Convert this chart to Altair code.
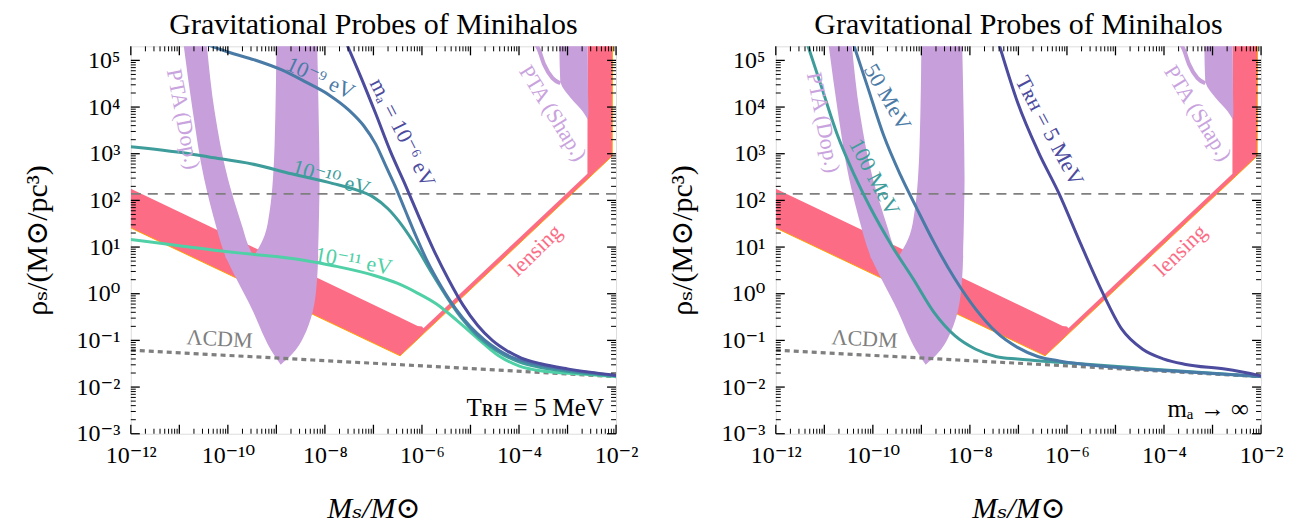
import altair as alt
import numpy as np
import pandas as pd

# ------------------------------------------------------------------
# Data: all values are log10 of the quantities
# ------------------------------------------------------------------
# Lambda-CDM (dotted) and the horizontal dashed line
lcdm_x = [-12.0, -7.0, -2.0]
lcdm_y = [-1.21, -1.49, -1.775]
dash_y = 2.14

# lensing region (x, lower edge, upper edge)
lens_x = [-12.0, -9.0, -6.45, -6.09, -6.0, -5.97, -4.0, -2.59, -2.585, -2.08, -2.075, -1.9]
lens_lo = [1.41, -0.07, -1.33, -0.98, -0.89, -0.86, 1.07, 2.45, 2.455, 2.95, 5.4, 5.4]
lens_hi = [2.25, 0.76, -0.51, -0.69, -0.70, -0.74, 1.19, 2.57, 5.4, 5.4, 5.4, 5.4]
lens_edge_x = [-12.0, -6.45, -2.08, -2.075]
lens_edge_y = [1.41, -1.33, 2.95, 5.4]

# PTA (Doppler) region, drawn in three horizontal pieces (y, x_left, x_right)
dop_left_y = [0.76, 0.80, 1.04, 1.40, 2.47, 3.89, 5.40]
dop_left_lo = [-10.04, -10.05, -10.13, -10.23, -10.49, -10.72, -10.92]
dop_left_hi = [-9.45, -9.47, -9.58, -9.69, -10.00, -10.27, -10.44]
dop_right_y = [0.76, 0.80, 0.90, 1.26, 1.76, 2.47, 3.89, 5.40]
dop_right_lo = [-9.49, -9.47, -9.41, -9.24, -9.14, -9.07, -9.02, -9.00]
dop_right_hi = [-8.14, -8.14, -8.14, -8.13, -8.12, -8.11, -8.13, -8.16]
dop_bot_y = [-1.52, -1.31, -1.10, -0.95, -0.38, 0.33, 0.80]
dop_bot_lo = [-8.91, -9.05, -9.17, -9.24, -9.48, -9.83, -10.05]
dop_bot_hi = [-8.91, -8.69, -8.53, -8.45, -8.25, -8.16, -8.14]

# PTA (Shapiro) region
shap_y = [3.73, 3.91, 4.19, 4.51, 4.55, 5.40]
shap_lo = [-2.58, -2.69, -2.93, -3.14, -3.15, -3.17]
shap_hi = [-2.58, -2.57, -2.575, -2.58, -2.58, -2.59]
shap_arc_x = [-3.69, -3.60, -3.48, -3.31, -3.15]
shap_arc_y = [5.40, 5.25, 4.91, 4.62, 4.51]

# Left panel: T_RH = 5 MeV, various axion masses
ma6_x = [-7.55, -7.25, -6.95, -6.65, -6.35, -6.05, -5.75, -5.45, -5.15, -4.85, -4.55, -4.25, -3.95, -3.55, -3.0, -2.0]
ma6_y = [5.35, 4.62, 3.85, 3.05, 2.35, 1.62, 0.92, 0.30, -0.25, -0.68, -1.00, -1.22, -1.38, -1.50, -1.61, -1.75]
ma9_x = [-10.45, -10.0, -9.45, -8.9, -8.42, -7.9, -7.5, -7.2, -6.95, -6.75, -6.55, -6.35, -6.15, -5.9,
         -5.6, -5.3, -5.0, -4.7, -4.4, -4.1, -3.7, -3.2, -2.71, -2.0]
ma9_y = [5.35, 5.18, 5.01, 4.80, 4.55, 4.25, 3.93, 3.60, 3.20, 2.75, 2.30, 1.80, 1.30, 0.72,
         0.15, -0.33, -0.71, -1.00, -1.22, -1.38, -1.50, -1.60, -1.67, -1.76]
ma10_x = [-12.0, -11.0, -10.39, -9.5, -8.69, -7.83, -7.4, -7.0, -6.7, -6.4, -6.1, -5.8, -5.5, -5.2, -4.9,
          -4.6, -4.3, -4.0, -3.6, -3.1, -2.71, -2.0]
ma10_y = [3.15, 3.03, 2.93, 2.78, 2.57, 2.36, 2.24, 2.07, 1.82, 1.45, 0.98, 0.45, -0.05, -0.50, -0.86,
          -1.12, -1.32, -1.46, -1.57, -1.65, -1.70, -1.76]
ma11_x = [-12.0, -11.0, -10.0, -9.54, -8.5, -7.83, -6.98, -6.5, -6.12, -5.70, -5.27, -4.84, -4.42, -3.99, -3.56, -2.71, -2.0]
ma11_y = [1.16, 1.03, 0.90, 0.85, 0.73, 0.60, 0.39, 0.22, 0.03, -0.22, -0.58, -0.97, -1.33, -1.55, -1.65, -1.72, -1.775]

# Right panel: m_a -> infinity, various reheating temperatures
t5_x = [-7.40, -7.02, -6.59, -6.16, -5.73, -5.30, -4.87, -4.44, -4.0, -3.58, -2.71, -2.0]
t5_y = [5.35, 4.11, 3.04, 2.14, 1.10, 0.10, -0.76, -1.19, -1.40, -1.51, -1.62, -1.76]
t50_x = [-10.40, -10.12, -9.78, -9.43, -9.09, -8.74, -8.31, -7.88, -7.45, -7.02, -6.59, -6.16, -5.30, -4.44, -3.58, -2.0]
t50_y = [5.35, 4.47, 3.40, 2.54, 1.82, 1.10, 0.32, -0.33, -0.83, -1.15, -1.35, -1.44, -1.55, -1.62, -1.67, -1.775]
t100_x = [-11.35, -11.07, -10.73, -10.38, -10.04, -9.61, -9.17, -8.74, -8.31, -7.88, -7.45, -7.02, -6.16, -4.44, -2.0]
t100_y = [5.35, 4.47, 3.40, 2.54, 1.82, 1.03, 0.32, -0.40, -0.90, -1.19, -1.35, -1.40, -1.47, -1.60, -1.775]

# tick positions
x_major_exp = list(range(-12, -1))
x_label_exp = [-12, -10, -8, -6, -4, -2]
y_major_exp = list(range(-3, 6))
minor_mult = [2, 3, 4, 5, 6, 7, 8, 9]

# ------------------------------------------------------------------
FONT = "Liberation Serif, DejaVu Serif, serif"
INDIGO = "#4c4b9e"
STEEL = "#4a7aa6"
TEAL = "#3e9d9b"
MINT = "#50d0a6"
PURPLE = "#c79fdb"
PURPLE_TXT = "#c9a3de"
RED = "#fc6c85"
ORANGE = "#ffa200"
GRAY = "#7f7f7f"

W, H = 486, 388


def P(v):
    return np.power(10.0, np.asarray(v, dtype=float))


SUP = str.maketrans("-0123456789", "⁻⁰¹²³⁴⁵⁶⁷⁸⁹")


def lab(k):
    return "10" + str(k).translate(SUP)


def label_expr(ks):
    s = ""
    for k in ks[:-1]:
        s += f"datum.value < {10 ** (k + 0.5):.4g} ? '{lab(k)}' : "
    return s + f"'{lab(ks[-1])}'"


XS = alt.Scale(type="log", domain=[1e-12, 1e-2], nice=False)
YS = alt.Scale(type="log", domain=[1e-3, 2e5], nice=False)

XAX = alt.Axis(values=[float(10.0 ** k) for k in x_label_exp], labelExpr=label_expr(x_label_exp),
               ticks=False, domain=False, grid=False, labelFont=FONT, labelFontSize=24,
               labelColor="black", labelPadding=10, labelFlush=False, labelOverlap=False,
               title="Mₛ/M⊙", titleFont=FONT, titleFontSize=30, titleFontWeight="normal",
               titleFontStyle="italic", titleColor="black", titleX=W / 2, titleY=75,
               titleBaseline="middle", titleAlign="center")
YAX = alt.Axis(values=[float(10.0 ** k) for k in y_major_exp], labelExpr=label_expr(y_major_exp),
               ticks=False, domain=False, grid=False, labelFont=FONT, labelFontSize=24,
               labelColor="black", labelPadding=11, labelFlush=False, labelOverlap=False,
               labelBaseline="middle",
               title="ρₛ/(M⊙/pc³)", titleFont=FONT, titleFontSize=30, titleFontWeight="normal",
               titleColor="black", titleX=-93, titleY=H / 2, titleAngle=270,
               titleBaseline="middle", titleAlign="center")


def X(f):
    return alt.X(f, type="quantitative", scale=XS, axis=XAX)


def Y(f):
    return alt.Y(f, type="quantitative", scale=YS, axis=YAX)


def line_layer(xs, ys, color, width, dash=None, smooth=True):
    df = pd.DataFrame({"x": P(xs), "y": P(ys), "i": np.arange(len(xs))})
    kw = dict(color=color, strokeWidth=width, clip=True)
    if smooth:
        kw["interpolate"] = "monotone"
    if dash:
        kw["strokeDash"] = dash
    return alt.Chart(df).mark_line(**kw).encode(x=X("x"), y=Y("y"), order=alt.Order("i:Q"))


def harea(ys, lo, hi, color):
    df = pd.DataFrame({"y": P(ys), "lo": P(lo), "hi": P(hi)})
    return alt.Chart(df).mark_area(orient="horizontal", color=color, opacity=1, clip=True,
                                   interpolate="monotone").encode(
        y=Y("y"), x=X("lo"), x2="hi")


def text_layer(txt, x, y, color, angle=0, size=22, align="center", style="normal"):
    df = pd.DataFrame({"x": P([x]), "y": P([y]), "t": [txt]})
    return alt.Chart(df).mark_text(font=FONT, fontSize=size, color=color, angle=angle,
                                   align=align, baseline="middle", fontStyle=style).encode(
        x=X("x"), y=Y("y"), text="t:N")


def tick_layers():
    xmaj = P(x_major_exp)
    xmin = np.array([m * 10.0 ** k for k in x_major_exp[:-1] for m in minor_mult])
    ymaj = P(y_major_exp)
    ymin = np.array([m * 10.0 ** k for k in y_major_exp[:-1] for m in minor_mult])
    out = []
    for vals, L, sw in [(xmaj, 9, 1.3), (xmin, 5, 1.0)]:
        base = alt.Chart(pd.DataFrame({"v": vals})).mark_rule(color="black", strokeWidth=sw)
        out.append(base.encode(x=X("v"), y=alt.value(H), y2=alt.value(H - L)))
        out.append(base.encode(x=X("v"), y=alt.value(0), y2=alt.value(L)))
    for vals, L, sw in [(ymaj, 9, 1.3), (ymin, 5, 1.0)]:
        base = alt.Chart(pd.DataFrame({"v": vals})).mark_rule(color="black", strokeWidth=sw)
        out.append(base.encode(y=Y("v"), x=alt.value(0), x2=alt.value(L)))
        out.append(base.encode(y=Y("v"), x=alt.value(W), x2=alt.value(W - L)))
    return out


def common_background():
    lens = pd.DataFrame({"x": P(lens_x), "lo": P(lens_lo), "hi": P(lens_hi)})
    lens_area = alt.Chart(lens).mark_area(color=RED, opacity=1, clip=True).encode(
        x=X("x"), y=Y("lo"), y2="hi")
    layers = [
        lens_area,
        line_layer(lens_edge_x, lens_edge_y, ORANGE, 1.0, smooth=False),
        harea(dop_bot_y, dop_bot_lo, dop_bot_hi, PURPLE),
        harea(dop_left_y, dop_left_lo, dop_left_hi, PURPLE),
        harea(dop_right_y, dop_right_lo, dop_right_hi, PURPLE),
        harea(shap_y, shap_lo, shap_hi, PURPLE),
        line_layer(shap_arc_x, shap_arc_y, PURPLE, 4),
        line_layer([-12.0, -2.0], [dash_y, dash_y], GRAY, 1.6, [10, 7], smooth=False),
        line_layer(lcdm_x, lcdm_y, GRAY, 3.2, [5, 4]),
    ]
    return layers


def common_labels(dop_x, dop_y):
    return [
        text_layer("PTA (Dop.)", dop_x, dop_y, PURPLE_TXT, angle=79),
        text_layer("PTA (Shap.)", -3.30, 3.87, PURPLE_TXT, angle=58),
        text_layer("lensing", -3.66, 0.93, RED, angle=316),
        text_layer("ΛCDM", -10.17, -0.97, GRAY, angle=3),
    ]


TITLE = alt.Title("Gravitational Probes of Minihalos", font=FONT, fontSize=30, fontWeight="normal",
                  color="black", anchor="middle", frame="group", baseline="alphabetic", offset=-18)

left_layers = common_background() + [
    line_layer(ma11_x, ma11_y, MINT, 3),
    line_layer(ma10_x, ma10_y, TEAL, 3),
    line_layer(ma9_x, ma9_y, STEEL, 3),
    line_layer(ma6_x, ma6_y, INDIGO, 3),
] + common_labels(-10.92, 3.74) + [
    text_layer("10⁻⁹ eV", -8.09, 4.62, STEEL, angle=25),
    text_layer("mₐ = 10⁻⁶ eV", -6.40, 3.45, INDIGO, angle=63),
    text_layer("10⁻¹⁰ eV", -7.87, 2.48, TEAL, angle=17),
    text_layer("10⁻¹¹ eV", -7.41, 0.70, MINT, angle=10),
    text_layer("Tʀʜ = 5 MeV", -2.25, -2.44, "black", size=25, align="right"),
] + tick_layers()

right_layers = common_background() + [
    line_layer(t100_x, t100_y, TEAL, 3),
    line_layer(t50_x, t50_y, STEEL, 3),
    line_layer(t5_x, t5_y, INDIGO, 3),
] + common_labels(-11.02, 3.67) + [
    text_layer("50 MeV", -9.70, 4.21, STEEL, angle=60),
    text_layer("100 MeV", -9.97, 2.50, TEAL, angle=62),
    text_layer("Tʀʜ = 5 MeV", -6.36, 3.49, INDIGO, angle=62),
    text_layer("mₐ → ∞", -2.25, -2.47, "black", size=25, align="right"),
] + tick_layers()

left = alt.layer(*left_layers).properties(width=W, height=H, title=TITLE)
right = alt.layer(*right_layers).properties(width=W, height=H, title=TITLE)

chart = alt.hconcat(left, right, spacing=160, bounds="flush").properties(
    padding={"left": 14, "top": 0, "right": 4, "bottom": 0}
).configure_view(stroke="black", strokeWidth=1.6).configure(background="white")

chart.save("out.html", embed_options={"renderer": "svg", "actions": False})
